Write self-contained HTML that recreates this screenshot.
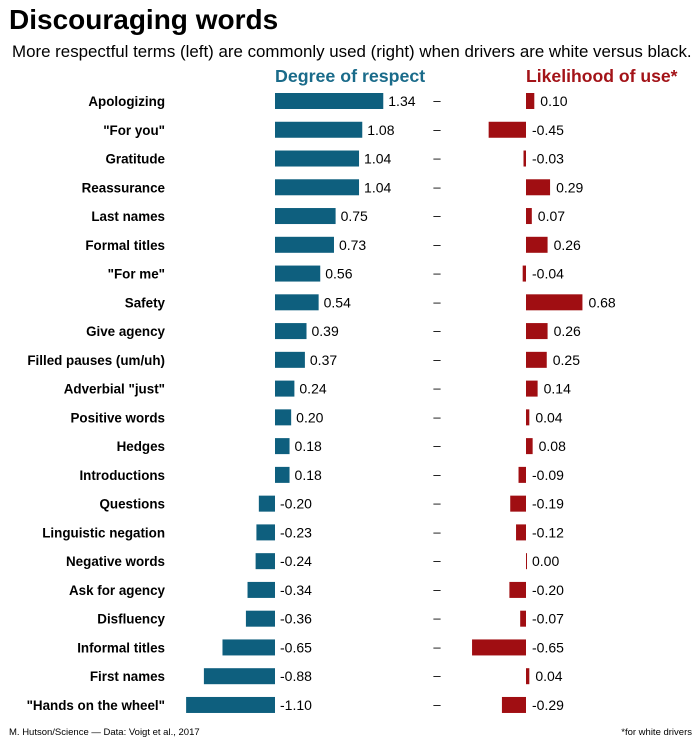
<!DOCTYPE html>
<html><head><meta charset="utf-8"><style>
body{margin:0;background:#fff;font-family:"Liberation Sans",Arial,sans-serif;}
svg text{font-family:"Liberation Sans",Arial,sans-serif;}
</style></head><body>
<svg id="chart" width="699" height="740">
<text x="9" y="29" font-size="28" font-weight="bold" fill="#000">Discouraging words</text>
<text x="12" y="57" font-size="16.9" fill="#000">More respectful terms (left) are commonly used (right) when drivers are white versus black.</text>
<text x="275" y="82" font-size="17.8" font-weight="bold" fill="#1a6b8a">Degree of respect</text>
<text x="526" y="82" font-size="17.6" font-weight="bold" fill="#a31318">Likelihood of use*</text>
<text x="9" y="735" font-size="9.5" fill="#000">M. Hutson/Science — Data: Voigt et al., 2017</text>
<text x="692" y="735" font-size="9.5" fill="#000" text-anchor="end">*for white drivers</text>
<g id="rows"></g>
</svg>
<script>
const categories=["Apologizing","\"For you\"","Gratitude","Reassurance","Last names","Formal titles","\"For me\"","Safety","Give agency","Filled pauses (um/uh)","Adverbial \"just\"","Positive words","Hedges","Introductions","Questions","Linguistic negation","Negative words","Ask for agency","Disfluency","Informal titles","First names","\"Hands on the wheel\""];
const respect=[1.34,1.08,1.04,1.04,0.75,0.73,0.56,0.54,0.39,0.37,0.24,0.20,0.18,0.18,-0.20,-0.23,-0.24,-0.34,-0.36,-0.65,-0.88,-1.10];
const likelihood=[0.10,-0.45,-0.03,0.29,0.07,0.26,-0.04,0.68,0.26,0.25,0.14,0.04,0.08,-0.09,-0.19,-0.12,0.00,-0.20,-0.07,-0.65,0.04,-0.29];
const NS="http://www.w3.org/2000/svg";
const g=document.getElementById('rows');
const y0=101, step=28.76, bh=16;
const xL=v=>275+v*80.8, xR=v=>526+v*83;
function mk(t,a){const e=document.createElementNS(NS,t);for(const k in a)e.setAttribute(k,a[k]);g.appendChild(e);return e;}
const fmt=v=>v.toFixed(2);
categories.forEach((c,i)=>{
 const y=y0+i*step;
 let t=mk('text',{x:165,y:y+5,'font-size':13.4,'font-weight':'bold','text-anchor':'end'});t.textContent=c;
 
 
 let v=respect[i];
 let r=mk('rect',{x:Math.min(xL(0),xL(v)),y:y-bh/2,width:Math.abs(xL(v)-xL(0)),height:bh,fill:'#0e5f7e'});
 
 
 t=mk('text',{x:(v>=0?xL(v):xL(0))+5,y:y+5,'font-size':14});t.textContent=fmt(v);
 
 
 t=mk('text',{x:437,y:y+4,'font-size':13,'text-anchor':'middle'});t.textContent='–';
 
 
 let w=likelihood[i];
 r=mk('rect',{x:Math.min(xR(0),xR(w)),y:y-bh/2,width:Math.max(1,Math.abs(xR(w)-xR(0))),height:bh,fill:'#a00e12'});
 
 
 t=mk('text',{x:(w>=0?xR(w):xR(0))+6,y:y+5,'font-size':14});t.textContent=fmt(w);
 
 
});
</script>
</body></html>
